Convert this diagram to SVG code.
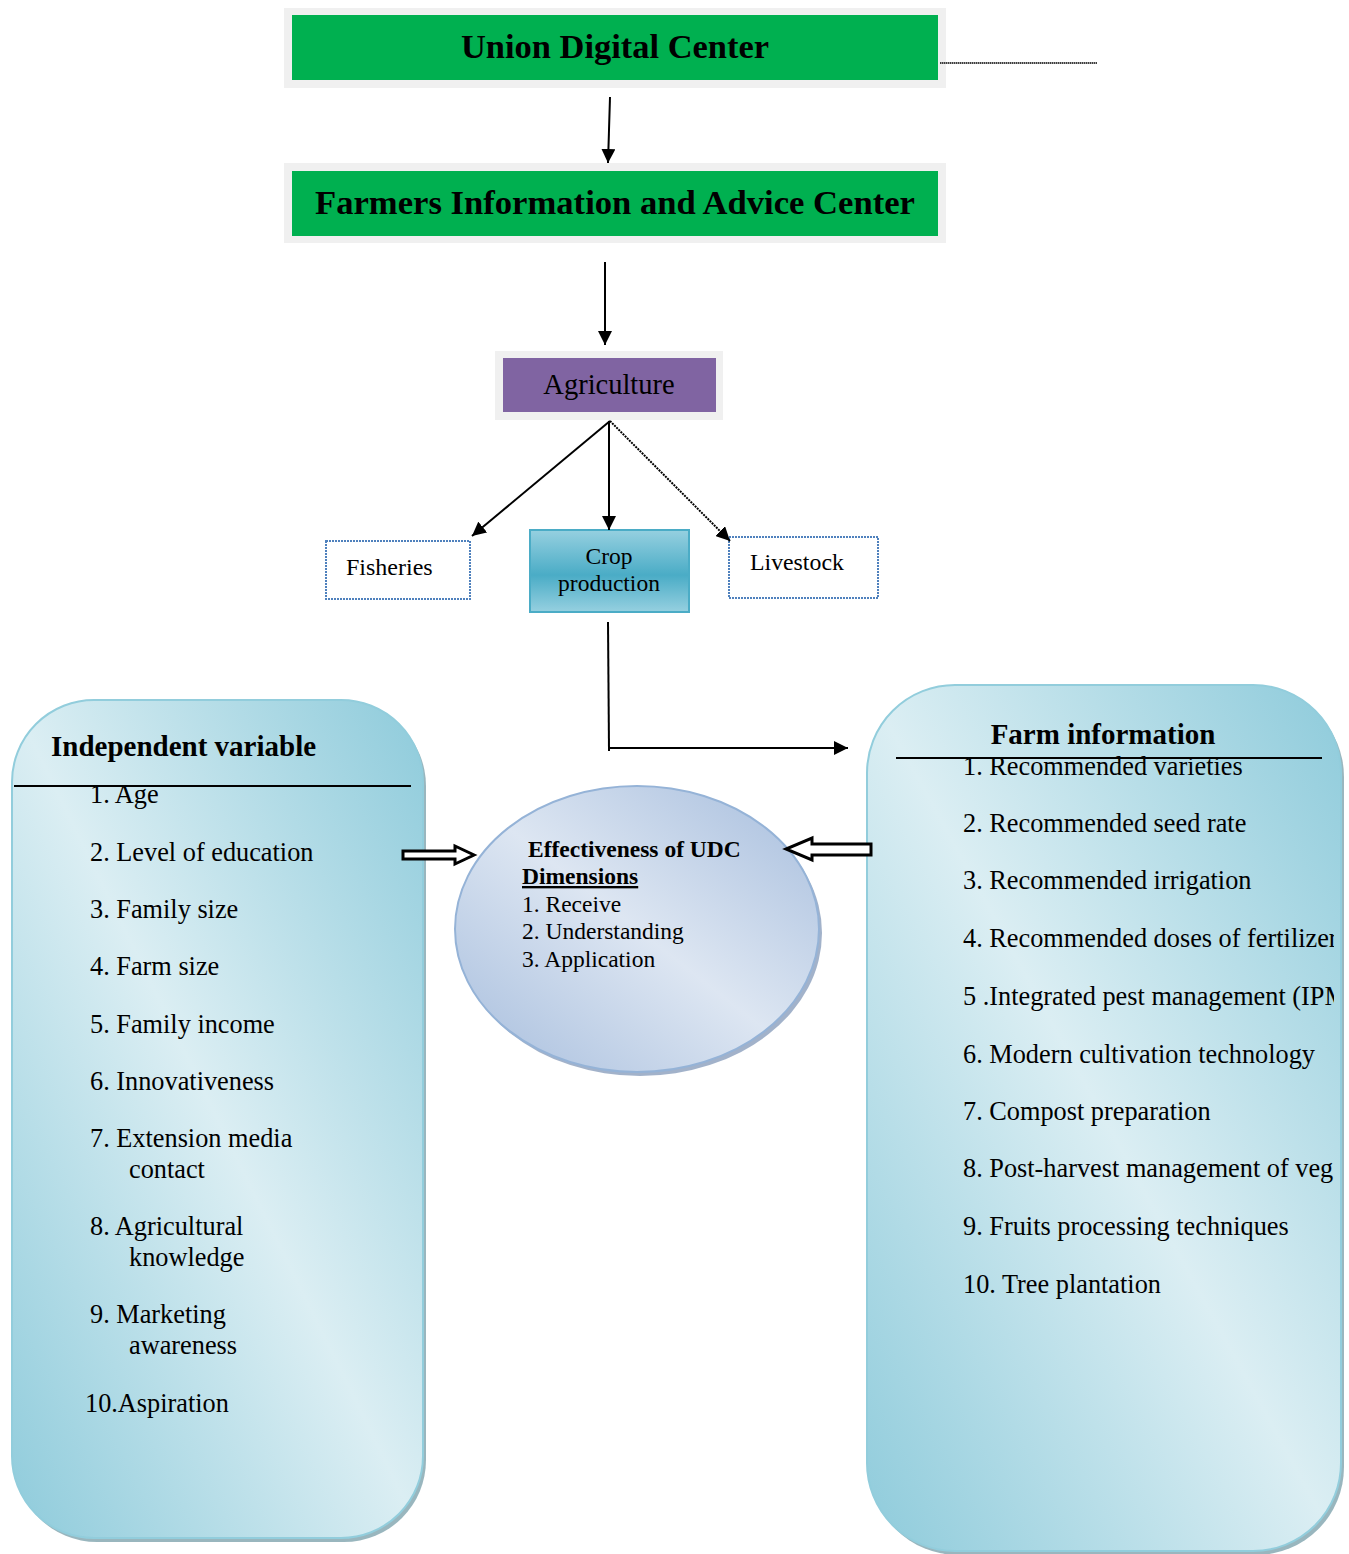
<svg xmlns="http://www.w3.org/2000/svg" width="1349" height="1554" viewBox="0 0 1349 1554">
<style>
  .title { font-family: "Liberation Serif", "Times New Roman", serif; font-weight: bold; font-size: 33px; fill: #000; }
  .serif { font-family: "Liberation Serif", "Times New Roman", serif; fill: #000; }
  .item { font-family: "Liberation Serif", "Times New Roman", serif; font-size: 26.3px; fill: #000; }
  .head { font-family: "Liberation Serif", "Times New Roman", serif; font-size: 29px; font-weight: bold; fill: #000; }
  .ell { font-family: "Liberation Serif", "Times New Roman", serif; font-size: 23.5px; fill: #000; }
  .conn { stroke: #000; stroke-width: 2; fill: none; }
  .dotbox { fill: #fff; stroke: #4f81bd; stroke-width: 2; stroke-dasharray: 2 1; }
  .panel { stroke: #92cddc; stroke-width: 2; }
  .shadow { fill: #7fa4ae; opacity: 0.8; }
</style>
<defs>
  <marker id="ah" viewBox="0 0 10 10" refX="10" refY="5" markerWidth="14" markerHeight="14" markerUnits="userSpaceOnUse" orient="auto">
    <path d="M0,0 L10,5 L0,10 z" fill="#000"/>
  </marker>
  <linearGradient id="panelGrad" x1="0" y1="1" x2="1" y2="0">
    <stop offset="0" stop-color="#8ecbdb"/>
    <stop offset="0.5" stop-color="#dbeef3"/>
    <stop offset="1" stop-color="#8ecbdb"/>
  </linearGradient>
  <linearGradient id="ellGrad" x1="0" y1="1" x2="1" y2="0">
    <stop offset="0" stop-color="#a6bddd"/>
    <stop offset="0.5" stop-color="#dde6f2"/>
    <stop offset="1" stop-color="#a6bddd"/>
  </linearGradient>
  <linearGradient id="cropGrad" x1="0" y1="0" x2="0" y2="1">
    <stop offset="0" stop-color="#96d0e0"/>
    <stop offset="0.55" stop-color="#4aacc6"/>
    <stop offset="1" stop-color="#96d0e0"/>
  </linearGradient>
  <clipPath id="rightClip">
    <rect x="860" y="680" width="474" height="880"/>
  </clipPath>
</defs>

<g id="udc">
  <rect x="284" y="8" width="662" height="80" fill="#f0f0f0"/>
  <rect x="292" y="15" width="646" height="65" fill="#00b050"/>
  <text class="title" x="615" y="58" text-anchor="middle" textLength="308" lengthAdjust="spacingAndGlyphs">Union Digital Center</text>
</g>

<g id="fiac">
  <rect x="284" y="163" width="662" height="80" fill="#f0f0f0"/>
  <rect x="292" y="171" width="646" height="65" fill="#00b050"/>
  <text class="title" x="615" y="214" text-anchor="middle" textLength="600" lengthAdjust="spacingAndGlyphs">Farmers Information and Advice Center</text>
</g>

<g id="agriculture">
  <rect x="495" y="351" width="228" height="69" fill="#f0f0f0"/>
  <rect x="503" y="358" width="213" height="54" fill="#8064a2"/>
  <text class="serif" x="609" y="394" font-size="28.5" text-anchor="middle">Agriculture</text>
</g>

<g id="fisheries">
  <rect class="dotbox" x="326" y="541" width="144" height="58"/>
  <text class="serif" x="346" y="575" font-size="24">Fisheries</text>
</g>

<g id="crop">
  <rect x="530" y="530" width="159" height="82" fill="url(#cropGrad)" stroke="#4bacc6" stroke-width="2"/>
  <text class="serif" x="609" y="564" font-size="23.5" text-anchor="middle">Crop</text>
  <text class="serif" x="609" y="591" font-size="23.5" text-anchor="middle">production</text>
</g>

<g id="livestock">
  <rect class="dotbox" x="729" y="537" width="149" height="61"/>
  <text class="serif" x="750" y="570" font-size="23.8">Livestock</text>
</g>

<g id="independent">
  <rect class="shadow" x="15" y="704" width="411" height="838" rx="82" ry="82"/>
  <rect class="panel" x="12" y="700" width="411" height="838" rx="82" ry="82" fill="url(#panelGrad)"/>
  <text class="head" x="51" y="756">Independent variable</text>
  <line x1="14" y1="786" x2="411" y2="786" stroke="#000" stroke-width="2"/>
  <text class="item" x="90" y="803">1. Age</text>
  <text class="item" x="90" y="861">2. Level of education</text>
  <text class="item" x="90" y="918">3. Family size</text>
  <text class="item" x="90" y="975">4. Farm size</text>
  <text class="item" x="90" y="1033">5. Family income</text>
  <text class="item" x="90" y="1090">6. Innovativeness</text>
  <text class="item" x="90" y="1147">7. Extension media</text>
  <text class="item" x="129" y="1178">contact</text>
  <text class="item" x="90" y="1235">8. Agricultural</text>
  <text class="item" x="129" y="1266">knowledge</text>
  <text class="item" x="90" y="1323">9. Marketing</text>
  <text class="item" x="129" y="1354">awareness</text>
  <text class="item" x="85" y="1412">10.Aspiration</text>
</g>

<g id="effectiveness">
  <ellipse cx="640" cy="933" rx="182" ry="143" fill="#8b9fbd" opacity="0.8"/>
  <ellipse cx="637" cy="929" rx="182" ry="143" fill="url(#ellGrad)" stroke="#95b3d7" stroke-width="2"/>
  <text class="ell" x="528" y="857" font-weight="bold">Effectiveness of UDC</text>
  <text class="ell" x="522" y="884" font-weight="bold" text-decoration="underline">Dimensions</text>
  <text class="ell" x="522" y="912">1. Receive</text>
  <text class="ell" x="522" y="939">2. Understanding</text>
  <text class="ell" x="522" y="967">3. Application</text>
</g>

<g id="farminfo">
  <rect class="shadow" x="870" y="689" width="474" height="866" rx="88" ry="88"/>
  <rect class="panel" x="867" y="685" width="474" height="866" rx="88" ry="88" fill="url(#panelGrad)"/>
  <text class="head" x="1103" y="744" text-anchor="middle">Farm information</text>
  <line x1="896" y1="758" x2="1322" y2="758" stroke="#000" stroke-width="2"/>
  <g clip-path="url(#rightClip)">
    <text class="item" x="963" y="775">1. Recommended varieties</text>
    <text class="item" x="963" y="832">2. Recommended seed rate</text>
    <text class="item" x="963" y="889">3. Recommended irrigation</text>
    <text class="item" x="963" y="947">4. Recommended doses of fertilizer</text>
    <text class="item" x="963" y="1005">5 .Integrated pest management (IPM</text>
    <text class="item" x="963" y="1063">6. Modern cultivation technology</text>
    <text class="item" x="963" y="1120">7. Compost preparation</text>
    <text class="item" x="963" y="1177">8. Post-harvest management of veg</text>
    <text class="item" x="963" y="1235">9. Fruits processing techniques</text>
    <text class="item" x="963" y="1293">10. Tree plantation</text>
  </g>
</g>

<g id="connectors">
  <line x1="940" y1="63" x2="1097" y2="63" stroke="#000" stroke-width="1.5" stroke-dasharray="1.5 0.5"/>
  <line class="conn" x1="610" y1="97" x2="608" y2="163" marker-end="url(#ah)"/>
  <line class="conn" x1="605" y1="262" x2="605" y2="345" marker-end="url(#ah)"/>
  <line class="conn" x1="610" y1="421" x2="472" y2="536" stroke-width="1.6" marker-end="url(#ah)"/>
  <line class="conn" x1="609" y1="421" x2="609" y2="530" stroke-width="2.5" marker-end="url(#ah)"/>
  <line class="conn" x1="610" y1="421" x2="730" y2="541" stroke-width="1.6" stroke-dasharray="2 1" marker-end="url(#ah)"/>
  <polyline class="conn" points="608,622 609,751"/>
  <line class="conn" x1="608" y1="748" x2="848" y2="748" marker-end="url(#ah)"/>
  <polygon points="403,851 455,851 455,846 474,855 455,864 455,859 403,859" fill="#fff" stroke="#000" stroke-width="3" stroke-linejoin="miter"/>
  <polygon points="871,844 812,844 812,838 786,849 812,860 812,855 871,855" fill="#fff" stroke="#000" stroke-width="3" stroke-linejoin="miter"/>
</g>
</svg>
